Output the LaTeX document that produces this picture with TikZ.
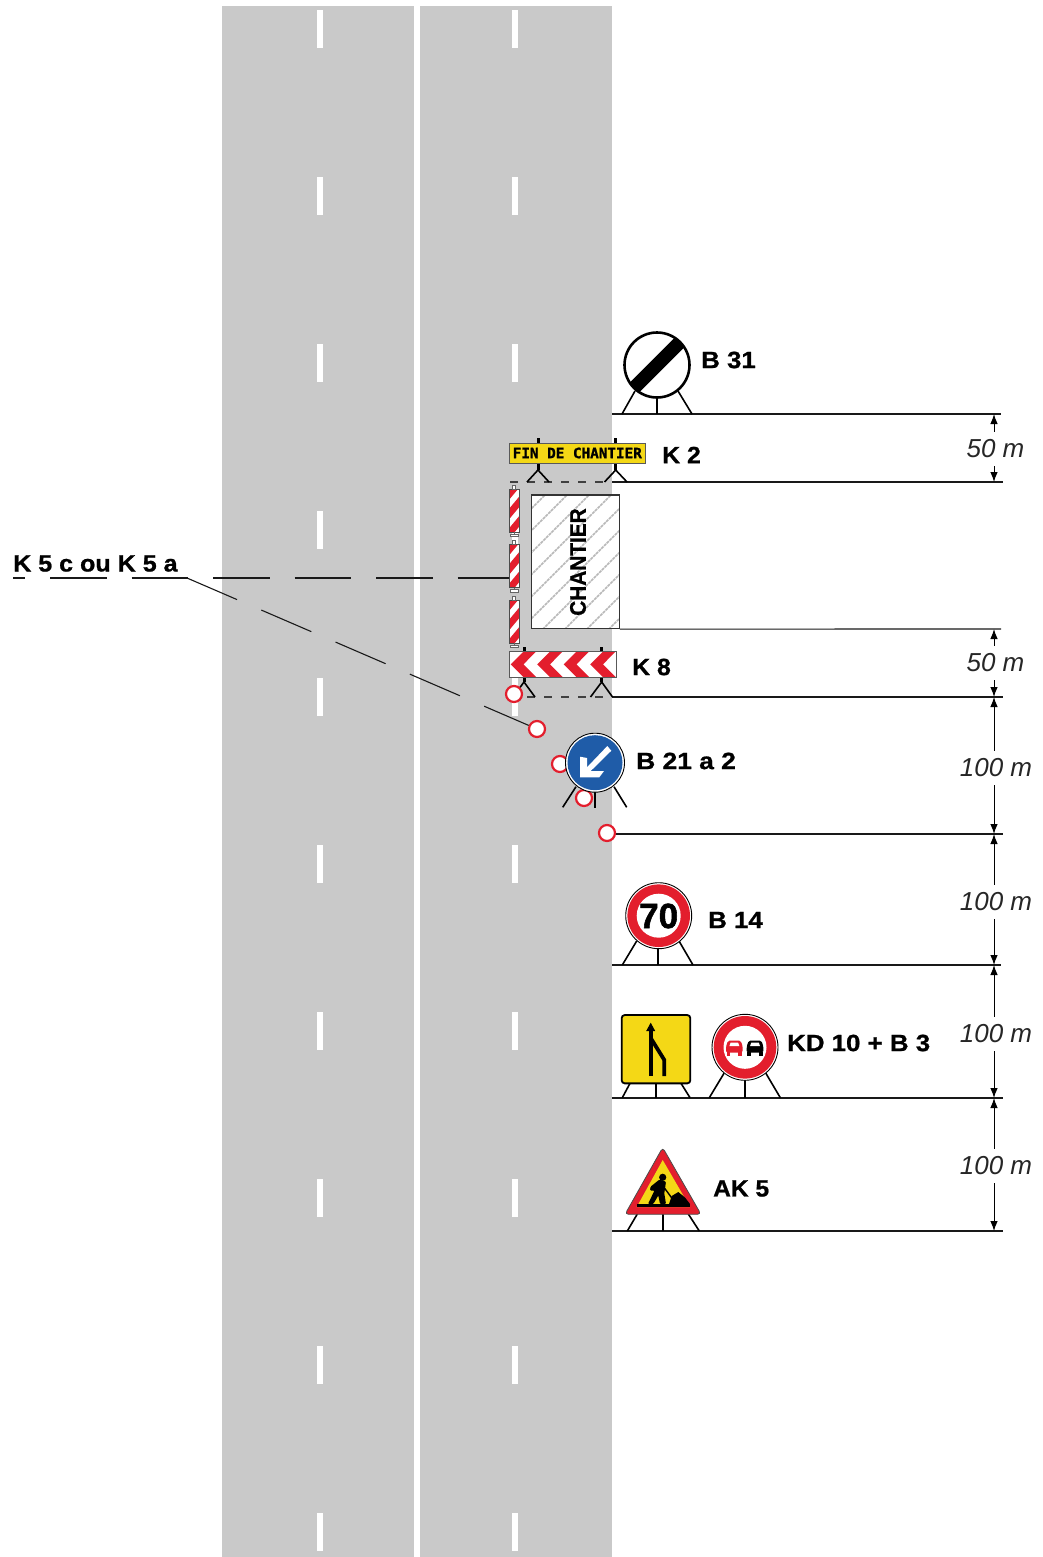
\documentclass[tikz,border=0pt]{standalone}
\usepackage{fontspec}
\usepackage{graphicx}
\usetikzlibrary{arrows.meta,shapes.geometric,calc}
\setmainfont{Liberation Sans}
\newfontfamily\labfont[FakeStretch=1.1,FakeBold=0.9]{Liberation Sans}
\newfontfamily\heavyfont[FakeBold=1.6]{Liberation Sans}
\newfontfamily\panelfont[FakeBold=1.2]{DejaVu Sans Mono}
\definecolor{roadgrey}{HTML}{C9C9C9}
\definecolor{signyellow}{HTML}{F4D816}
\definecolor{signred}{HTML}{E31E2D}
\definecolor{signblue}{HTML}{1F5CA8}
\tikzset{
  x=1pt,y=-1pt,
  road/.style={fill=roadgrey,draw=none},
  lane/.style={fill=white,draw=none},
  level/.style={draw=black!90,line width=1.1pt},
  dashlevel/.style={draw=black!75,line width=1.1pt,dash pattern=on 8pt off 9pt},
  leg/.style={draw=black,line width=1.6pt},
  post/.style={draw=black,line width=3pt},
  leader/.style={draw=black!90,line width=1.1pt},
  cone/.style={circle,draw=signred,fill=white,line width=2.2pt,minimum size=16pt,inner sep=0pt},
  lab/.style={anchor=west,inner sep=0pt,font={\labfont\bfseries\fontsize{23.5}{24}\selectfont}},
  dimlab/.style={inner sep=0pt,minimum height=34pt,font={\itshape\fontsize{26}{27}\selectfont},text=black!85},
  dimarrow/.style={draw=black,line width=1pt,-{Latex[length=10pt,width=7.5pt]}},
  beacon/.style={rectangle,draw=black!70,line width=1pt,minimum width=10pt,minimum height=43pt,inner sep=0pt},
}
\newcommand{\roundsign}[3]{% x y inner-ring
  \fill[white] (#1,#2) circle[radius=33pt];
  \draw[black,line width=.9pt] (#1,#2) circle[radius=33pt];
  \fill[signred] (#1,#2) circle[radius=31.3pt];
  \fill[white] (#1,#2) circle[radius=#3pt];
}
\newcommand{\carshape}[2]{% x colour
  \fill[#2,rounded corners=1.5pt] (#1,1046.5) -- (#1+2,1040.7) -- (#1+14.7,1040.7) -- (#1+16.7,1046.5) -- (#1+16.7,1052.5) -- (#1,1052.5) -- cycle;
  \fill[white] (#1+3.4,1046) -- (#1+4.6,1042.6) -- (#1+12.1,1042.6) -- (#1+13.3,1046) -- cycle;
  \fill[#2] (#1+.6,1052) rectangle (#1+4.4,1055.5);
  \fill[#2] (#1+12.3,1052) rectangle (#1+16.1,1055.5);
}
\begin{document}
\begin{tikzpicture}
\useasboundingbox (0,0) rectangle (1042,1557);
% carriageways
\fill[road] (222,6) rectangle (414,1557);
\fill[road] (420,6) rectangle (612,1557);
\foreach \k in {0,...,9}{
  \fill[lane] (317,10+167*\k) rectangle (323,48+167*\k);
  \fill[lane] (511.5,10+167*\k) rectangle (517.5,48+167*\k);
}
% level coordinates
\coordinate (a0) at (612,414); \coordinate (a1) at (612,482);
\coordinate (a2) at (612,697); \coordinate (a3) at (612,834);
\coordinate (a4) at (612,965); \coordinate (a5) at (612,1098);
\coordinate (a6) at (612,1231);
\coordinate (e0) at (1001,414); \coordinate (e1) at (1003,482);
\coordinate (e2) at (1001,629); \coordinate (e3) at (1003,697);
\coordinate (e4) at (1003,834); \coordinate (e5) at (1001,965);
\coordinate (e6) at (1003,1098); \coordinate (e7) at (1003,1231);
\draw[level] (a0) -- (e0);
\draw[level] (a1) -- (e1);
\draw[level] (a2) -- (e3);
\draw[level] (a3) -- (e4);
\draw[level] (a4) -- (e5);
\draw[level] (a5) -- (e6);
\draw[level] (a6) -- (e7);
\coordinate (d1) at (510,482); \coordinate (d2) at (527,697);
\draw[dashlevel] (d1) -- (a1);
\draw[dashlevel] (d2) -- (a2);
% dimensions
\node[dimlab] (m1) at (995.5,449) {50 m};
\node[dimlab] (m2) at (995.5,663) {50 m};
\node[dimlab] (m3) at (996,768) {100 m};
\node[dimlab] (m4) at (996,902) {100 m};
\node[dimlab] (m5) at (996,1034) {100 m};
\node[dimlab] (m6) at (996,1166) {100 m};
\coordinate (t1) at (994,414); \coordinate (b1) at (994,482);
\coordinate (t2) at (994,629); \coordinate (b2) at (994,697);
\coordinate (t3) at (994,697); \coordinate (b3) at (994,834);
\coordinate (t4) at (994,834); \coordinate (b4) at (994,965);
\coordinate (t5) at (994,965); \coordinate (b5) at (994,1098);
\coordinate (t6) at (994,1098); \coordinate (b6) at (994,1231);
\foreach \i in {1,...,6}{
  \draw[dimarrow] (m\i.north -| t\i) -- (t\i);
  \draw[dimarrow] (m\i.south -| b\i) -- (b\i);
}
% work area
\begin{scope}
  \clip (531.7,495) rectangle (619.3,628.5);
  \fill[white] (531.7,495) rectangle (619.3,628.5);
  \foreach \k in {-2,...,10}{
    \draw[black!28,line width=1.5pt,dash pattern=on 3pt off .8pt] (400+22*\k,640) -- (400+22*\k+170,470);
  }
\end{scope}
\node[draw=black!80,line width=1.2pt,minimum width=87.6pt,minimum height=133.5pt,inner sep=0pt] (work) at (575.5,561.75) {};
\draw[level] (work.south east) -- (e2);
\node[rotate=90,inner sep=0pt,font={\labfont\bfseries\fontsize{22.5}{23}\selectfont}] (chantier) at (578,562) {\scalebox{.84}[1]{CHANTIER}};
% beacons
\foreach \i/\yy in {1/510.5,2/566,3/621.5}{
  \begin{scope}
    \clip (509.3,\yy-21.5) rectangle (519.3,\yy+21.5);
    \fill[white] (509.3,\yy-21.5) rectangle (519.3,\yy+21.5);
    \foreach \s in {0,1,2,3}{
      \fill[signred] (509.3,\yy-21.5+19.5*\s) -- (519.3,\yy-21.5+19.5*\s-12) -- (519.3,\yy-21.5+19.5*\s-1.5) -- (509.3,\yy-21.5+19.5*\s+10.5) -- cycle;
    }
  \end{scope}
  \node[beacon] (k\i) at (514.3,\yy) {};
  \draw[black!60,line width=.8pt,fill=white] (512.8,\yy-25.5) rectangle (515.8,\yy-21.5);
  \draw[black!60,line width=.8pt,fill=white] (510,\yy+23.5) rectangle (518.5,\yy+26);
  \draw[black!60,line width=.8pt] (514.3,\yy+21.5) -- (514.3,\yy+23.5);
}
% K2
\draw[post] (538,438) -- (538,470); \draw[post] (615.7,438) -- (615.7,470);
\coordinate (p1) at (538,470); \coordinate (p2) at (615.7,470);
\draw[leg] (527,482) -- (p1) -- (549,482);
\draw[leg] (604.5,482) -- (p2) -- (627,482);
\node[rectangle,draw=black!65,fill=signyellow,line width=1pt,minimum width=135.5pt,minimum height=20pt,inner sep=0pt,font={\panelfont\bfseries\fontsize{14.3}{15}\selectfont}] (k2sign) at (577.3,453) {FIN DE CHANTIER};
% K8
\draw[post] (524,647) -- (524,682); \draw[post] (601.7,647) -- (601.7,682);
\coordinate (p3) at (524,682); \coordinate (p4) at (601.7,682);
\draw[leg] (513,697) -- (p3) -- (535,697);
\draw[leg] (590.5,697) -- (p4) -- (612.5,697);
\begin{scope}
  \clip (509.3,651) rectangle (616,677.7);
  \fill[white] (509.3,651) rectangle (616,677.7);
  \foreach \t in {510.7,537.2,563.7,590.2}{
    \fill[signred] (\t,664.35) -- (\t+13.3,651) -- (\t+26,651) -- (\t+12.7,664.35) -- (\t+26,677.7) -- (\t+13.3,677.7) -- cycle;
  }
\end{scope}
\node[rectangle,draw=black!65,line width=1pt,minimum width=106.7pt,minimum height=26.7pt,inner sep=0pt] (k8sign) at (562.65,664.35) {};
% B31
\draw[leg] (635,391) -- (622,414); \draw[leg] (657,398) -- (657,414); \draw[leg] (678,391) -- (692,414);
\begin{scope}
  \clip (657,365) circle[radius=32pt];
  \fill[white] (657,365) circle[radius=32pt];
  \draw[black,line width=13.5pt] (622,400) -- (692,330);
\end{scope}
\node[circle,draw=black,line width=2.6pt,minimum size=65pt,inner sep=0pt] (b31sign) at (657,365) {};
% B21 a 2 and cones
\draw[leg] (576,786.7) -- (562.7,807.3); \draw[leg] (595,790) -- (595,807.5); \draw[leg] (614,786.7) -- (626.7,807.3);
\node[cone] (c1) at (514,694) {};
\node[cone] (c2) at (537,729) {};
\node[cone] (c3) at (560,764) {};
\node[cone] (c4) at (584,798) {};
\node[cone] (c5) at (607,833) {};
\fill[white] (595,762.7) circle[radius=29.5pt];
\draw[black,line width=.9pt] (595,762.7) circle[radius=29.5pt];
\node[circle,fill=signblue,minimum size=55pt,inner sep=0pt] (b21sign) at (595,762.7) {};
\fill[white] (580,777.3) -- (580,756.7) -- (587,758) -- (587,767.3) -- (607.3,746) -- (611.3,750.7) -- (590.7,771) -- (604,771) -- (599.3,777.3) -- cycle;
% leaders
\coordinate (ls) at (13,578);
\coordinate (lb) at (187,578);
\draw[leader,dash pattern=on 56.5pt off 25pt,dash phase=44.5pt] (ls) -- (k2.west |- ls);
\draw[leader,dash pattern=on 54.5pt off 26.4pt] (lb) -- (c2);
% B14
\draw[leg] (636.7,941) -- (622.3,965); \draw[leg] (657.7,948) -- (657.7,965); \draw[leg] (679,941) -- (693,965);
\roundsign{658.7}{915.7}{22}
\node[inner sep=0pt,font={\heavyfont\bfseries\fontsize{35}{36}\selectfont}] (seventy) at (658.7,916) {70};
% KD10
\draw[leg] (630,1083.3) -- (622.3,1097.7); \draw[leg] (655.7,1083.3) -- (655.7,1097.7); \draw[leg] (681,1083.3) -- (690,1097.7);
\node[rectangle,rounded corners=3pt,draw=black,fill=signyellow,line width=1.8pt,minimum width=68.6pt,minimum height=68.3pt,inner sep=0pt] (kd10) at (656,1049.2) {};
\draw[black,line width=3.8pt] (664.3,1076) -- (664.3,1060) -- (650.7,1038);
\draw[black,line width=3.8pt] (650.7,1076) -- (650.7,1030);
\fill[black] (650.7,1022.7) -- (655.2,1031) -- (646.2,1031) -- cycle;
% B3
\draw[leg] (724,1073.3) -- (709.3,1097.7); \draw[leg] (745,1080) -- (745,1097.7); \draw[leg] (765.7,1073) -- (780.3,1097.7);
\roundsign{745}{1047.3}{21.5}
\carshape{726}{signred}
\carshape{746.7}{black}
% AK5
\draw[leg] (637.3,1214) -- (627.3,1231); \draw[leg] (662.7,1214) -- (662.7,1231); \draw[leg] (688.3,1214) -- (699.3,1231);
\draw[fill=signred,draw=black!70,line width=.8pt,rounded corners=3.5pt] (662.7,1147.5) -- (701,1214.3) -- (625,1214.3) -- cycle;
\fill[signyellow] (662.7,1160) -- (690,1207) -- (636.7,1207) -- cycle;
\fill[black] (637,1204) rectangle (690,1206.8);
\fill[black] (662.7,1177.3) circle[radius=3.6pt];
\fill[black,rounded corners=1pt] (650.5,1186.7) -- (659.5,1179.5) -- (666,1181.7) -- (664.3,1193.3) -- (666,1204) -- (660,1204) -- (658.3,1195.5) -- (653.3,1204) -- (648,1204) -- (654.5,1190.5) -- (650,1190.5) -- cycle;
\draw[black,line width=1.4pt] (663,1186) -- (672,1198.3);
\fill[black] (669,1204) -- (671.7,1196) -- (678.3,1192) -- (685,1197.5) -- (690,1204) -- cycle;
% labels
\node[lab] (lb31) at (701,360) {B 31};
\node[lab] (lk2) at (662,455) {\scalebox{.96}[1]{K 2}};
\node[lab] (lk8) at (632,667) {\scalebox{.96}[1]{K 8}};
\node[lab] (lb21) at (636,761) {\scalebox{1.02}[1]{B 21 a 2}};
\node[lab] (lb14) at (708,920) {B 14};
\node[lab] (lkd) at (787,1043) {KD 10 + B 3};
\node[lab] (lak) at (713,1188.5) {\scalebox{.95}[1]{AK 5}};
\node[lab,anchor=base west] (lk5) at (13,571.5) {\scalebox{.97}[1]{K 5 c ou K 5 a}};
\end{tikzpicture}
\end{document}
